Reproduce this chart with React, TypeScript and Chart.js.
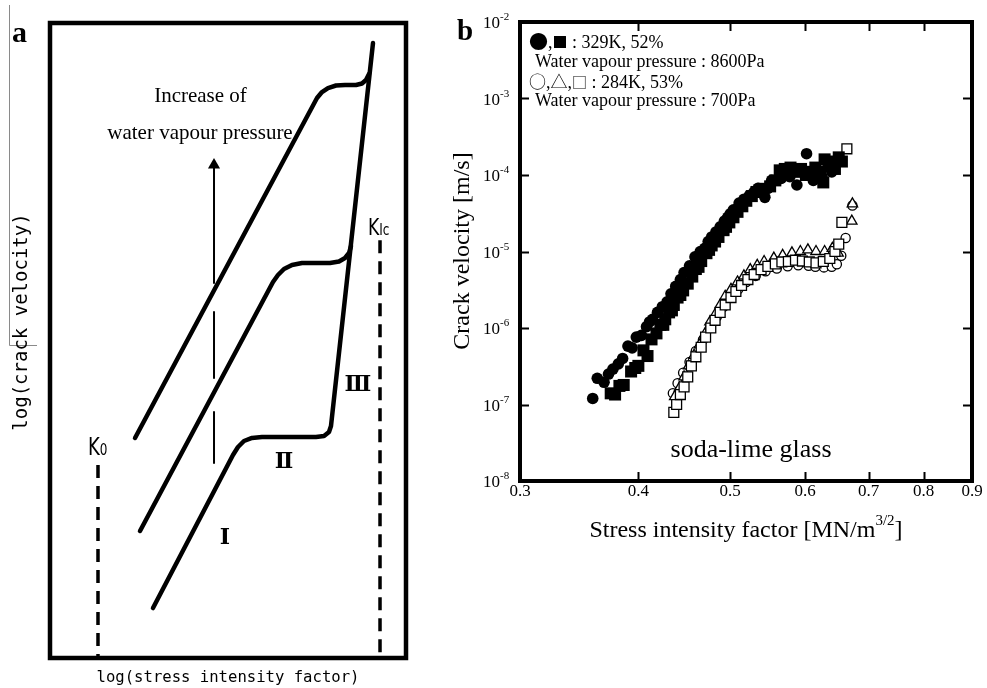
import React, { useEffect, useRef } from "react";
import { Chart, registerables } from "chart.js";
Chart.register(...registerables);

// ---------- Panel a: schematic (arbitrary log units, 0–100 on both axes) ----------
const CURVE_LOW: [number, number][] = [
  [28.93, 7.87], [51.4, 31.97], [52.81, 33.23], [54.49, 34.17], [56.74, 34.65], [59.55, 34.8],
  [74.72, 34.8], [76.97, 34.96], [78.37, 35.59], [78.93, 36.54], [90.73, 96.85],
];
const CURVE_MID: [number, number][] = [
  [25.28, 20.0], [62.64, 59.21], [64.04, 60.31], [65.73, 61.26], [67.98, 61.89], [70.79, 62.2],
  [78.65, 62.2], [81.18, 62.44], [82.87, 62.99], [83.99, 63.78], [84.55, 64.88],
];
const CURVE_HIGH: [number, number][] = [
  [23.88, 34.65], [75.0, 88.19], [76.4, 89.13], [78.09, 89.76], [80.34, 90.16], [82.87, 90.24],
  [85.96, 90.24], [87.64, 90.47], [88.76, 91.02], [89.61, 91.97],
];
const K0_LINE: [number, number][] = [[13.48, 30.4], [13.48, 0]];
const KIC_LINE: [number, number][] = [[92.7, 65.8], [92.7, 0]];
const ARROW_SEGMENTS: [number, number][][] = [
  [[46.07, 59.06], [46.07, 77.5]],
  [[46.07, 44.09], [46.07, 54.49]],
  [[46.07, 30.71], [46.07, 38.74]],
];
const ARROW_HEAD: [number, number] = [46.07, 77.64];

// ---------- Panel b: measured crack velocity ----------
const X_TICKS = [0.3, 0.4, 0.5, 0.6, 0.7, 0.8, 0.9];
const Y_TICKS = [1e-8, 1e-7, 1e-6, 1e-5, 1e-4, 1e-3, 1e-2];

// 329K, 52% (8600 Pa)
const FILLED_CIRCLES: [number, number][] = [
  [0.358, 1.2e-7], [0.362, 2.2e-7], [0.368, 1.95e-7], [0.372, 2.5e-7], [0.376, 2.9e-7], [0.381, 3.4e-7],
  [0.385, 4.0e-7], [0.39, 5.8e-7], [0.394, 5.5e-7], [0.398, 7.6e-7], [0.403, 8.0e-7], [0.408, 1.04e-6],
  [0.411, 1.2e-6], [0.414, 1.3e-6], [0.419, 1.6e-6], [0.424, 1.9e-6], [0.429, 2.2e-6], [0.433, 2.8e-6],
  [0.438, 3.5e-6], [0.443, 4.3e-6], [0.447, 5.3e-6], [0.453, 6.5e-6], [0.459, 8.5e-6], [0.465, 1.0e-5],
  [0.47, 1.1e-5], [0.474, 1.35e-5], [0.478, 1.55e-5], [0.483, 1.8e-5], [0.488, 2.1e-5], [0.493, 2.5e-5],
  [0.497, 2.8e-5], [0.5, 3.1e-5], [0.504, 3.5e-5], [0.511, 4.3e-5], [0.517, 4.8e-5], [0.524, 5.4e-5],
  [0.53, 6.0e-5], [0.535, 6.7e-5], [0.544, 5.1e-5], [0.548, 6.7e-5], [0.553, 8.5e-5], [0.566, 9.0e-5],
  [0.578, 9.5e-5], [0.588, 7.4e-5], [0.602, 1.9e-4], [0.612, 8.5e-5], [0.625, 9.5e-5], [0.64, 1.1e-4],
];
const FILLED_SQUARES: [number, number][] = [
  [0.374, 1.4e-7], [0.378, 1.35e-7], [0.382, 1.75e-7], [0.386, 1.8e-7], [0.393, 2.7e-7], [0.397, 3.0e-7],
  [0.4, 3.2e-7], [0.405, 5.1e-7], [0.409, 4.3e-7], [0.413, 7.1e-7], [0.418, 8.5e-7], [0.422, 1.1e-6],
  [0.425, 1.1e-6], [0.427, 1.3e-6], [0.431, 1.6e-6], [0.434, 1.7e-6], [0.436, 2.0e-6], [0.44, 2.5e-6],
  [0.443, 2.7e-6], [0.446, 3.1e-6], [0.451, 3.8e-6], [0.456, 4.7e-6], [0.46, 5.9e-6], [0.463, 6.3e-6],
  [0.466, 7.5e-6], [0.472, 9.5e-6], [0.475, 1.05e-5], [0.478, 1.2e-5], [0.482, 1.35e-5], [0.486, 1.55e-5],
  [0.492, 1.9e-5], [0.495, 2.1e-5], [0.499, 2.4e-5], [0.504, 2.8e-5], [0.509, 3.3e-5], [0.515, 3.9e-5],
  [0.52, 4.6e-5], [0.527, 5.3e-5], [0.533, 6.0e-5], [0.542, 6.6e-5], [0.551, 7.1e-5], [0.558, 8.5e-5],
  [0.564, 1.15e-4], [0.571, 1.2e-4], [0.579, 1.25e-4], [0.586, 1.1e-4], [0.594, 1.2e-4], [0.601, 1.0e-4],
  [0.608, 1.1e-4], [0.615, 1.25e-4], [0.622, 1.1e-4], [0.627, 8.0e-5], [0.629, 1.6e-4], [0.635, 1.3e-4],
  [0.64, 1.5e-4], [0.645, 1.2e-4], [0.651, 1.7e-4], [0.656, 1.5e-4],
];
// 284K, 53% (700 Pa)
const OPEN_CIRCLES: [number, number][] = [
  [0.435, 1.4e-7], [0.44, 1.9e-7], [0.446, 2.6e-7], [0.453, 3.6e-7], [0.46, 5.0e-7], [0.468, 7.0e-7],
  [0.476, 1.0e-6], [0.484, 1.4e-6], [0.492, 1.9e-6], [0.5, 2.5e-6], [0.51, 3.2e-6], [0.52, 4.0e-6],
  [0.532, 4.8e-6], [0.545, 5.5e-6], [0.56, 6.0e-6], [0.575, 6.4e-6], [0.59, 6.6e-6], [0.605, 6.5e-6],
  [0.615, 6.3e-6], [0.628, 6.2e-6], [0.64, 6.3e-6], [0.648, 6.8e-6], [0.655, 8.8e-6], [0.662, 1.5e-5],
  [0.673, 4.0e-5],
];
const OPEN_TRIANGLES: [number, number][] = [
  [0.437, 1.27e-7], [0.442, 1.65e-7], [0.447, 2.3e-7], [0.452, 3.2e-7], [0.458, 4.4e-7], [0.464, 6.0e-7],
  [0.47, 8.3e-7], [0.476, 1.2e-6], [0.482, 1.5e-6], [0.488, 2.0e-6], [0.494, 2.6e-6], [0.501, 3.2e-6],
  [0.509, 4.0e-6], [0.517, 4.8e-6], [0.525, 5.8e-6], [0.534, 6.6e-6], [0.543, 7.4e-6], [0.556, 8.2e-6],
  [0.568, 8.9e-6], [0.581, 9.6e-6], [0.593, 1.0e-5], [0.604, 1.05e-5], [0.616, 1.0e-5], [0.629, 1.0e-5],
  [0.641, 1.1e-5], [0.65, 9.5e-6], [0.672, 2.5e-5], [0.673, 4.2e-5],
];
const OPEN_SQUARES: [number, number][] = [
  [0.436, 7.9e-8], [0.439, 1.0e-7], [0.443, 1.35e-7], [0.447, 1.7e-7], [0.451, 2.3e-7], [0.455, 3.2e-7],
  [0.46, 4.2e-7], [0.466, 5.6e-7], [0.471, 7.6e-7], [0.477, 1.0e-6], [0.482, 1.26e-6], [0.488, 1.6e-6],
  [0.494, 2.0e-6], [0.501, 2.5e-6], [0.507, 3.0e-6], [0.514, 3.6e-6], [0.522, 4.3e-6], [0.53, 5.0e-6],
  [0.539, 5.8e-6], [0.548, 6.4e-6], [0.558, 6.9e-6], [0.567, 7.3e-6], [0.576, 7.4e-6], [0.586, 7.7e-6],
  [0.596, 7.5e-6], [0.606, 7.3e-6], [0.616, 7.1e-6], [0.627, 7.4e-6], [0.637, 8.1e-6], [0.645, 1.0e-5],
  [0.651, 1.25e-5], [0.656, 2.4e-5], [0.664, 2.2e-4],
];

const SERIF = "'Liberation Serif', 'Times New Roman', serif";
const CJK = "'Noto Sans CJK JP', 'DejaVu Sans', sans-serif";
const MONO = "'DejaVu Sans Mono', monospace";

const pts = (a: [number, number][]) => a.map(([x, y]) => ({ x, y }));

type Run = { t: string; font: string; dy?: number };
function drawRuns(ctx: CanvasRenderingContext2D, runs: Run[], x: number, y: number, align: "left" | "center" = "left") {
  ctx.textAlign = "left";
  let total = 0;
  const widths = runs.map((r) => {
    ctx.font = r.font;
    const w = ctx.measureText(r.t).width;
    total += w;
    return w;
  });
  let cx = align === "center" ? x - total / 2 : x;
  runs.forEach((r, i) => {
    ctx.font = r.font;
    ctx.fillText(r.t, cx, y + (r.dy || 0));
    cx += widths[i];
  });
}

function drawScaledText(ctx: CanvasRenderingContext2D, t: string, font: string, x: number, y: number, sx: number) {
  ctx.save();
  ctx.translate(x, y);
  ctx.scale(sx, 1);
  ctx.font = font;
  ctx.textAlign = "left";
  ctx.fillText(t, 0, 0);
  const w = ctx.measureText(t).width * sx;
  ctx.restore();
  return w;
}

const panelAPlugin = {
  id: "panelA",
  afterDraw(chart: any) {
    const { ctx, chartArea: ca, scales } = chart;
    const X = (v: number) => scales.x.getPixelForValue(v);
    const Y = (v: number) => scales.y.getPixelForValue(v);
    ctx.save();
    ctx.fillStyle = "#000";
    ctx.strokeStyle = "#000";
    // frame
    ctx.lineWidth = 4.5;
    ctx.strokeRect(ca.left, ca.top, ca.right - ca.left, ca.bottom - ca.top);

    // scan-border artifact
    ctx.strokeStyle = "#8a8a8a";
    ctx.lineWidth = 1;
    ctx.beginPath();
    ctx.moveTo(9.5, 5);
    ctx.lineTo(9.5, 345.5);
    ctx.lineTo(37, 345.5);
    ctx.stroke();

    // panel letter
    ctx.font = `bold 30px ${SERIF}`;
    ctx.textAlign = "left";
    ctx.textBaseline = "alphabetic";
    ctx.fillText("a", 12, 42);

    // annotations
    ctx.textAlign = "center";
    ctx.font = `21px ${SERIF}`;
    ctx.fillText("Increase of", X(42.28), Y(87.56));
    ctx.fillText("water vapour pressure", X(42.13), Y(81.73));

    ctx.textBaseline = "middle";
    ctx.font = `bold 22px 'DejaVu Serif', ${SERIF}`;
    ctx.fillText("Ⅰ", X(49.16), Y(18.9));
    ctx.fillText("Ⅱ", X(65.73), Y(30.87));
    ctx.fillText("Ⅲ", X(86.52), Y(42.99));

    ctx.textBaseline = "alphabetic";
    let w = drawScaledText(ctx, "K", `24px 'DejaVu Sans', sans-serif`, X(10.67), Y(31.97), 0.75);
    drawScaledText(ctx, "0", `16px 'DejaVu Sans', sans-serif`, X(10.67) + w, Y(31.97), 0.75);
    w = drawScaledText(ctx, "K", `23px 'DejaVu Sans', sans-serif`, X(89.33), Y(66.61), 0.75);
    drawScaledText(ctx, "Ic", `15px 'DejaVu Sans', sans-serif`, X(89.33) + w, Y(66.61), 0.8);

    // axis titles
    ctx.fillStyle = "#000";
    ctx.textAlign = "center";
    ctx.textBaseline = "middle";
    ctx.font = `15.6px ${MONO}`;
    ctx.fillText("log(stress intensity factor)", (ca.left + ca.right) / 2, 678);
    ctx.save();
    ctx.translate(22, 322);
    ctx.rotate(-Math.PI / 2);
    ctx.font = `19px ${MONO}`;
    ctx.fillText("log(crack velocity)", 0, 0);
    ctx.restore();
    ctx.restore();
  },
};

const panelBPlugin = {
  id: "panelB",
  afterDraw(chart: any) {
    const { ctx, chartArea: ca, scales } = chart;
    const xs = scales.x;
    const ys = scales.y;
    ctx.save();
    ctx.fillStyle = "#000";
    ctx.strokeStyle = "#000";
    ctx.lineWidth = 4;
    ctx.strokeRect(ca.left, ca.top, ca.right - ca.left, ca.bottom - ca.top);

    // inward ticks on all four sides
    ctx.lineWidth = 2;
    ctx.beginPath();
    X_TICKS.forEach((v, i) => {
      if (i === 0 || i === X_TICKS.length - 1) return;
      const p = Math.round(xs.getPixelForValue(v)) + 0.5;
      ctx.moveTo(p, ca.bottom);
      ctx.lineTo(p, ca.bottom - 9);
      ctx.moveTo(p, ca.top);
      ctx.lineTo(p, ca.top + 9);
    });
    Y_TICKS.forEach((v, i) => {
      if (i === 0 || i === Y_TICKS.length - 1) return;
      const p = Math.round(ys.getPixelForValue(v)) + 0.5;
      ctx.moveTo(ca.left, p);
      ctx.lineTo(ca.left + 9, p);
      ctx.moveTo(ca.right, p);
      ctx.lineTo(ca.right - 9, p);
    });
    ctx.stroke();

    // tick labels
    ctx.textBaseline = "middle";
    ctx.textAlign = "center";
    ctx.font = `17px ${SERIF}`;
    X_TICKS.forEach((v) => {
      ctx.fillText(v.toFixed(1), xs.getPixelForValue(v), ca.bottom + 11);
    });
    ctx.textBaseline = "alphabetic";
    Y_TICKS.forEach((v) => {
      const p = ys.getPixelForValue(v);
      const e = Math.round(Math.log10(v));
      drawRuns(ctx, [
        { t: "10", font: `17px ${SERIF}` },
        { t: `${e}`, font: `11px ${SERIF}`, dy: -8 },
      ], ca.left - 37, p + 6);
    });

    // panel letter
    ctx.font = `bold 29px ${SERIF}`;
    ctx.textAlign = "left";
    ctx.fillText("b", 7, 40);

    // legend text
    const L = ca.left + 10;
    ctx.textBaseline = "alphabetic";
    drawRuns(ctx, [
      { t: "●", font: `19px ${CJK}`, dy: 1 },
      { t: ",", font: `18px ${SERIF}` },
      { t: "■", font: `15px ${CJK}` },
      { t: " : 329K, 52%", font: `18px ${SERIF}` },
    ], L - 1, ca.top + 26);
    drawRuns(ctx, [{ t: "Water vapour pressure : 8600Pa", font: `18px ${SERIF}` }], L + 5, ca.top + 45);
    drawRuns(ctx, [
      { t: "○", font: `17px ${CJK}` },
      { t: ",", font: `18px ${SERIF}` },
      { t: "△", font: `17px ${CJK}` },
      { t: ",", font: `18px ${SERIF}` },
      { t: "□", font: `15px ${CJK}` },
      { t: " : 284K, 53%", font: `18px ${SERIF}` },
    ], L - 1, ca.top + 66);
    drawRuns(ctx, [{ t: "Water vapour pressure : 700Pa", font: `18px ${SERIF}` }], L + 5, ca.top + 84);

    // in-plot label
    ctx.textAlign = "center";
    ctx.textBaseline = "middle";
    ctx.font = `26px ${SERIF}`;
    ctx.fillText("soda-lime glass", xs.getPixelForValue(0.526), ys.getPixelForValue(2.5e-8));

    // axis titles
    ctx.textBaseline = "alphabetic";
    drawRuns(ctx, [
      { t: "Stress intensity factor [MN/m", font: `24px ${SERIF}` },
      { t: "3/2", font: `15px ${SERIF}`, dy: -12 },
      { t: "]", font: `24px ${SERIF}` },
    ], 296, 537, "center");
    ctx.save();
    ctx.translate(13, 251);
    ctx.rotate(-Math.PI / 2);
    ctx.textAlign = "center";
    ctx.textBaseline = "middle";
    ctx.font = `24px ${SERIF}`;
    ctx.fillText("Crack velocity [m/s]", 0, 0);
    ctx.restore();
    ctx.restore();
  },
};

const lineDs = (data: [number, number][], width: number, dash: number[] = []) => ({
  data: pts(data),
  showLine: true,
  borderColor: "#000",
  backgroundColor: "#000",
  borderWidth: width,
  borderDash: dash,
  borderCapStyle: dash.length ? "butt" : "round",
  borderJoinStyle: "round",
  pointRadius: 0,
  pointHoverRadius: 0,
  tension: 0,
  fill: false,
});

export default function App() {
  const aRef = useRef<HTMLCanvasElement>(null);
  const bRef = useRef<HTMLCanvasElement>(null);

  useEffect(() => {
    const chartA = new Chart(aRef.current as HTMLCanvasElement, {
      type: "scatter",
      data: {
        datasets: [
          lineDs(CURVE_LOW, 4.5),
          lineDs(CURVE_MID, 4.5),
          lineDs(CURVE_HIGH, 4.5),
          lineDs(K0_LINE, 3.5, [13, 8]),
          lineDs(KIC_LINE, 3.5, [13, 8]),
          ...ARROW_SEGMENTS.map((s) => lineDs(s, 2)),
          {
            data: pts([ARROW_HEAD]),
            showLine: false,
            pointStyle: "triangle",
            pointRadius: 7,
            pointHoverRadius: 7,
            backgroundColor: "#000",
            borderColor: "#000",
            borderWidth: 0,
          },
        ] as any,
      },
      options: {
        animation: false,
        responsive: false,
        events: [],
        layout: { padding: { left: 50, right: 44, top: 23, bottom: 30 } },
        plugins: { legend: { display: false }, tooltip: { enabled: false } },
        scales: {
          x: { type: "linear", min: 0, max: 100, display: false },
          y: { type: "linear", min: 0, max: 100, display: false },
        },
      },
      plugins: [panelAPlugin],
    } as any);

    const marker = (data: [number, number][], style: string, radius: number, filled: boolean, order: number) => ({
      data: pts(data),
      pointStyle: style,
      pointRadius: radius,
      pointHoverRadius: radius,
      backgroundColor: filled ? "#000" : "#fff",
      borderColor: "#000",
      borderWidth: filled ? 0 : 1.3,
      order,
    });

    const chartB = new Chart(bRef.current as HTMLCanvasElement, {
      type: "scatter",
      data: {
        datasets: [
          marker(FILLED_SQUARES, "rect", 8.5, true, 2),
          marker(FILLED_CIRCLES, "circle", 5.8, true, 1),
          marker(OPEN_CIRCLES, "circle", 4.6, false, 5),
          marker(OPEN_TRIANGLES, "triangle", 6, false, 4),
          marker(OPEN_SQUARES, "rect", 7, false, 3),
        ] as any,
      },
      options: {
        animation: false,
        responsive: false,
        events: [],
        layout: { padding: { left: 70, right: 15, top: 22, bottom: 207 } },
        plugins: { legend: { display: false }, tooltip: { enabled: false } },
        scales: {
          x: {
            type: "logarithmic",
            min: 0.3,
            max: 0.9,
            display: false,
            afterBuildTicks: (s: any) => { s.ticks = X_TICKS.map((value) => ({ value })); },
          },
          y: {
            type: "logarithmic",
            min: 1e-8,
            max: 1e-2,
            display: false,
            afterBuildTicks: (s: any) => { s.ticks = Y_TICKS.map((value) => ({ value })); },
          },
        },
      },
      plugins: [panelBPlugin],
    } as any);

    return () => {
      chartA.destroy();
      chartB.destroy();
    };
  }, []);

  return (
    <div style={{ position: "fixed", left: 0, top: 0, width: 987, height: 688, background: "#fff" }}>
      <canvas ref={aRef} width={450} height={688} style={{ position: "absolute", left: 0, top: 0, width: 450, height: 688 }} />
      <canvas ref={bRef} width={537} height={688} style={{ position: "absolute", left: 450, top: 0, width: 537, height: 688 }} />
    </div>
  );
}
